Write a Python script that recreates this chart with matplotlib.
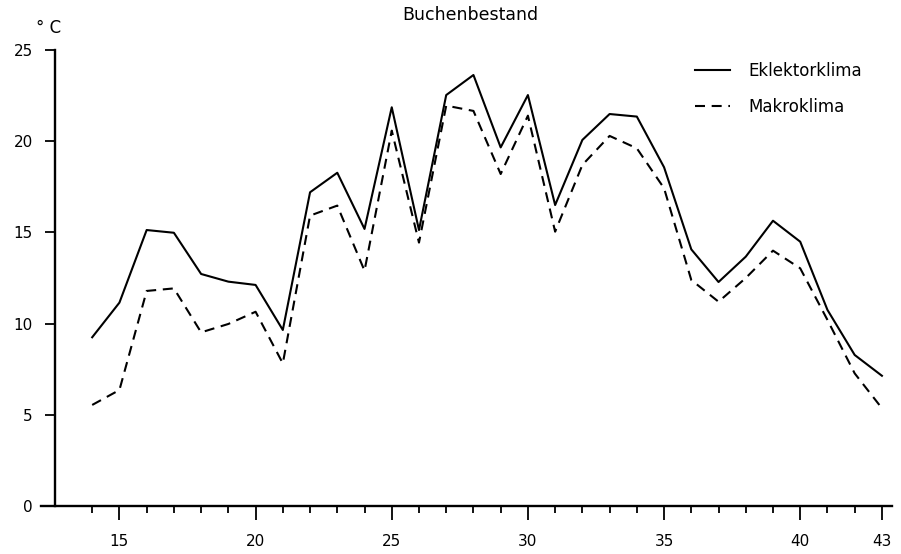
import numpy as np
import matplotlib
matplotlib.use('Agg')
import matplotlib.pyplot as plt

# Wochen (x) und Temperaturen in °C
weeks = list(range(14, 44))
eklektor = [9.25, 11.15, 15.13, 14.98, 12.72, 12.3, 12.12, 9.65, 17.2, 18.27,
            15.19, 21.86, 15.13, 22.53, 23.63, 19.66, 22.53, 16.5, 20.07, 21.49,
            21.35, 18.57, 14.07, 12.28, 13.67, 15.64, 14.49, 10.75, 8.28, 7.14]
makro = [5.54, 6.36, 11.79, 11.93, 9.52, 9.98, 10.65, 7.82, 15.92, 16.47,
         12.9, 20.58, 14.44, 21.95, 21.66, 18.2, 21.4, 15.04, 18.7, 20.29,
         19.61, 17.42, 12.39, 11.2, 12.5, 14.0, 13.03, 10.2, 7.27, 5.36]

x_major = [15, 20, 25, 30, 35, 40, 43]
y_major = [0, 5, 10, 15, 20, 25]

W, H = 901, 554
fig = plt.figure(figsize=(W / 100, H / 100), dpi=100)
ax = fig.add_axes([41 / W, 48 / H, (892 - 41) / W, (506 - 50) / H])

ax.plot(weeks, eklektor, '-', color='black', lw=1.5, label='Eklektorklima')
ax.plot(weeks, makro, color='black', lw=1.5, linestyle=(0, (4.8, 3.2)),
        label='Makroklima')

ax.set_xlim(12.12, 43.37)
ax.set_ylim(0, 25)

# Achsen
ax.spines['top'].set_visible(False)
ax.spines['right'].set_visible(False)
ax.spines['left'].set_position(('data', 12.64))
ax.spines['left'].set_linewidth(1.7)
ax.spines['bottom'].set_linewidth(1.7)

ax.set_xticks(x_major)
ax.set_xticks(weeks, minor=True)
ax.set_yticks(y_major)
ax.tick_params(axis='x', which='major', length=10, width=1.3, pad=10, labelsize=11)
ax.tick_params(axis='x', which='minor', length=5, width=1.3)
ax.tick_params(axis='y', which='major', length=7, width=1.3, pad=9, labelsize=11)

fig.text(470 / W, 1 - 15 / H, 'Buchenbestand', ha='center', va='center', fontsize=12.5)
fig.text(49 / W, 1 - 28 / H, '° C', ha='center', va='center', fontsize=12)

ax.legend(loc='upper left', bbox_to_anchor=(695 / W, 1 - 62 / H),
          bbox_transform=fig.transFigure, frameon=False, fontsize=12,
          handlelength=2.1, handletextpad=1.1, labelspacing=1.05,
          borderpad=0, borderaxespad=0)

fig.savefig('out.png', dpi=100)
